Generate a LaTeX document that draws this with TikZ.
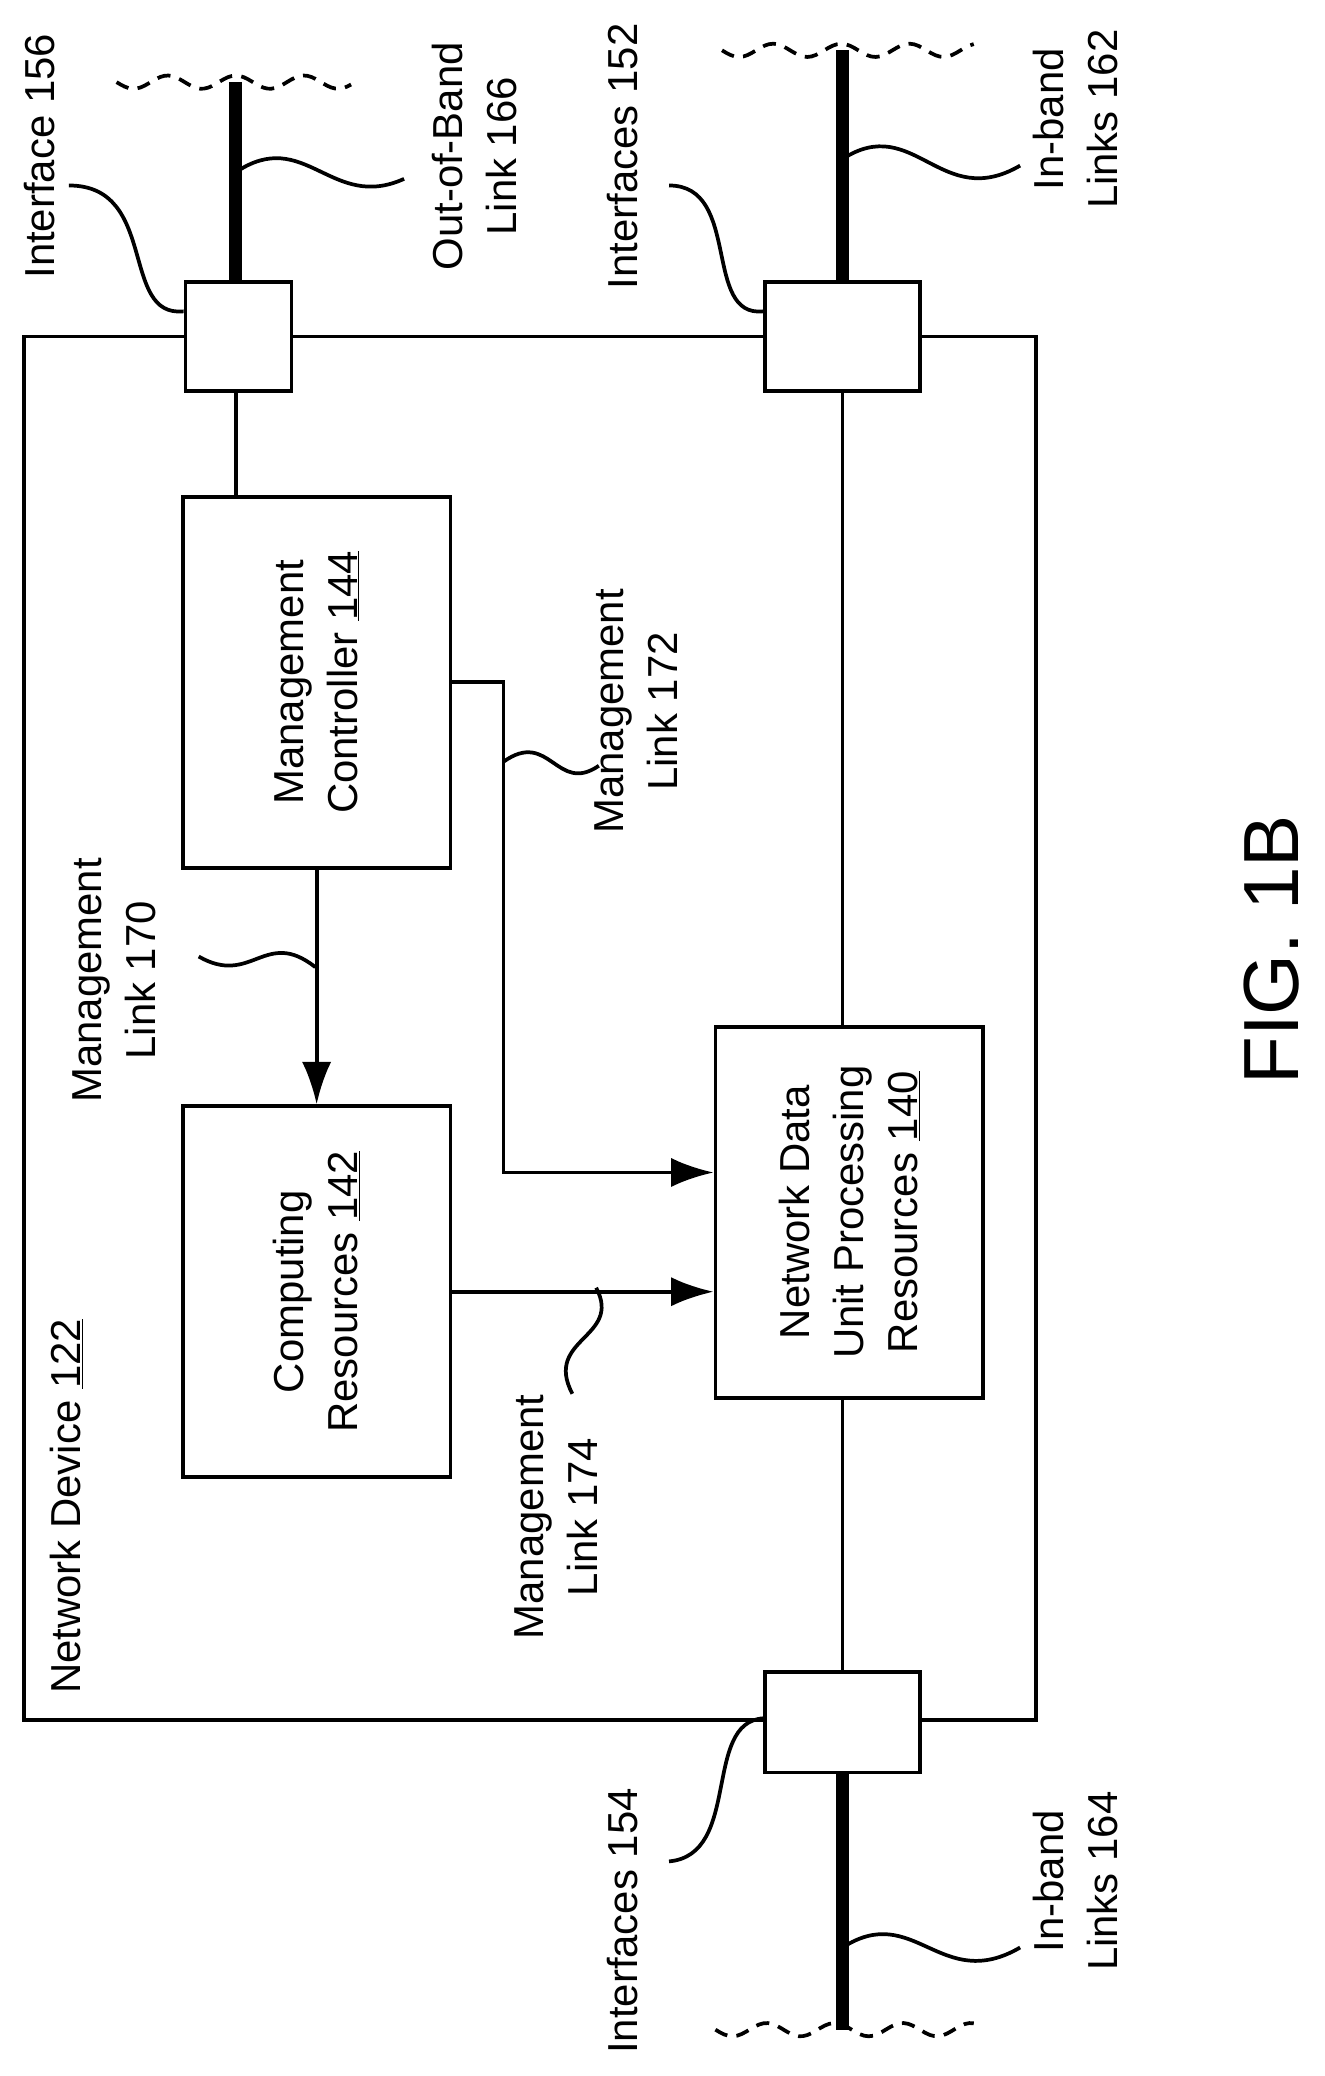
\documentclass[tikz,border=0pt]{standalone}
\usepackage{fontspec}
\setmainfont{Liberation Sans}
\usetikzlibrary{arrows.meta}
\tikzset{
  box/.style={draw, line width=4pt, minimum width=#1, inner sep=0pt},
  lbl/.style={rotate=90, align=center, font=\fontsize{45}{58}\selectfont},
  wire/.style={line width=4pt},
  trunk/.style={line width=14pt},
  arr/.style={wire, -{Latex[length=1.6cm,width=1.1cm]}},
  wavy/.style={line width=4pt, dash pattern=on 0.5cm off 0.35cm},
}
\begin{document}
\begin{tikzpicture}[x=0.05cm, y=-0.05cm]
\useasboundingbox (0,0) rectangle (1000,1567);
% device outline
\draw[wire] (18,254) rectangle (782,1298);
\node[lbl] (dev) at (50,1137) {Network Device \underline{122}};
% interfaces
\node[box=4cm, minimum height=4.1cm, fill=white] (i156) at (180,254) {};
\node[box=5.85cm, minimum height=4.1cm, fill=white] (i152) at (636,254) {};
\node[box=5.85cm, minimum height=3.8cm, fill=white] (i154) at (636,1300) {};
% blocks
\node[box=10.1cm, minimum height=14cm] (mc) at (239,515) {};
\node[box=10.1cm, minimum height=14cm] (cr) at (239,975) {};
\node[box=10.1cm, minimum height=14cm] (nd) at (641,915) {};
\node[lbl] (mctxt) at (mc.center) {Management\\Controller \underline{144}};
\node[lbl] (crtxt) at (cr.center) {Computing\\Resources \underline{142}};
\node[lbl] (ndtxt) at (nd.center) {Network Data\\Unit Processing\\Resources \underline{140}};
% external links
\coordinate (t156) at (178,62);
\coordinate (s156) at (178,295);
\coordinate (m156) at (178,375);
\coordinate (t152) at (636,38);
\coordinate (b154) at (636,1532);
\draw[trunk] (t156) -- (i156.north -| t156);
\draw[trunk] (t152) -- (i152.north);
\draw[trunk] (i154.south) -- (b154);
\draw[wavy] plot[domain=88:265, samples=60] (\x, {62+5*sin((\x-88)*7)});
\draw[wavy] plot[domain=545:735, samples=60] (\x, {38+5*sin((\x-545)*7)});
\draw[wavy] plot[domain=540:735, samples=60] (\x, {1532+5*sin((\x-540)*7)});
% internal links
\draw[wire] (s156) -- (m156);
\draw[wire] (i152.south) -- (i152.south |- nd.north);
\draw[wire] (nd.south -| i154) -- (i154.north);
\draw[arr] (mc.south) -- (cr.north);
\coordinate (m172) at (380,515);
\draw[arr] (mc.east) -- (m172) |- ([yshift=1.5cm]nd.west);
\draw[arr] (cr.east) -- (cr.east -| nd.west);
% labels
\node[lbl] (l156) at (30,118) {Interface 156};
\draw[wire] (i156.west |- 0,235) .. controls (90,240) and (120,140) .. (52,140);
\node[lbl] (l166) at (358,118) {Out-of-Band\\Link 166};
\draw[wire] (178,130) .. controls (230,95) and (250,160) .. (305,135);
\node[lbl] (l152) at (470,118) {Interfaces 152};
\draw[wire] (i152.west |- 0,235) .. controls (530,240) and (560,140) .. (505,140);
\node[lbl] (l162) at (812,90) {In-band\\Links 162};
\draw[wire] (636,120) .. controls (690,85) and (710,160) .. (770,125);
\node[lbl] (l172) at (480,537) {Management\\Link 172};
\draw[wire] (380,575) .. controls (415,550) and (420,600) .. (452,578);
\node[lbl] (l170) at (86,740) {Management\\Link 170};
\draw[wire] (238,730) .. controls (200,700) and (190,745) .. (150,722);
\node[lbl] (l174) at (420,1145) {Management\\Link 174};
\draw[wire] (450,972) .. controls (470,1010) and (410,1010) .. (432,1052);
\node[lbl] (l154) at (470,1450) {Interfaces 154};
\draw[wire] (i154.west |- 0,1297) .. controls (530,1300) and (560,1400) .. (505,1405);
\node[lbl] (l164) at (812,1420) {In-band\\Links 164};
\draw[wire] (636,1470) .. controls (690,1435) and (710,1505) .. (770,1470);
\node[rotate=90, font=\fontsize{84}{90}\selectfont] (fig) at (960,717) {FIG. 1B};
\end{tikzpicture}
\end{document}
